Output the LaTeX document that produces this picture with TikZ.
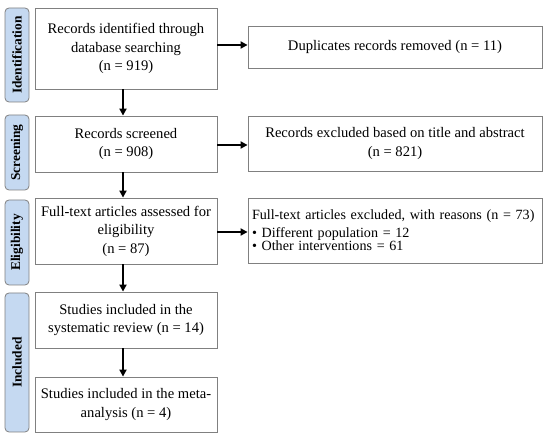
\documentclass[tikz,border=0pt]{standalone}
\usepackage{fontspec}
\setmainfont{Liberation Serif}
\usetikzlibrary{arrows.meta}
\definecolor{sidefill}{HTML}{C5D9F1}
\begin{document}
\begin{tikzpicture}[x=1pt,y=-1pt,
  box/.style={draw=black!50,line width=0.8pt,fill=white,inner sep=0pt,align=center,font=\fontsize{14.6}{18.5}\selectfont},
  side/.style={draw=black!50,line width=0.8pt,fill=sidefill,rounded corners=4pt,inner sep=0pt},
  sidetext/.style={rotate=90,font=\fontsize{13.4}{15}\selectfont\bfseries},
  arr/.style={-{Triangle[length=7pt,width=7pt]},line width=2pt,black}]
\useasboundingbox (0,0) rectangle (550,443);
% side labels
\node[side,minimum width=24pt,minimum height=94pt] (sid) at (17,55) {};
\node[sidetext] (tid) at (sid.center) {Identification};
\node[side,minimum width=24pt,minimum height=75pt] (sscr) at (17,152.5) {};
\node[sidetext] (tscr) at (sscr.center) {Screening};
\node[side,minimum width=24pt,minimum height=85pt] (sel) at (17,242.5) {};
\node[sidetext] (tel) at (sel.center) {Eligibility};
\node[side,minimum width=24pt,minimum height=139pt] (sinc) at (17,362.5) {};
\node[sidetext] (tinc) at (sinc.center) {Included};
% main boxes
\node[box,minimum width=182pt,minimum height=81pt] (b1) at (126,48.5) {Records identified through\\database searching\\(n = 919)};
\node[box,minimum width=182pt,minimum height=56pt] (b2) at (126,144) {Records screened\\(n = 908)};
\node[box,minimum width=182pt,minimum height=66pt] (b3) at (126,231) {Full-text articles assessed for\\eligibility\\(n = 87)};
\node[box,minimum width=182pt,minimum height=56pt] (b4) at (126,320) {Studies included in the\\systematic review (n = 14)};
\node[box,minimum width=182pt,minimum height=55pt] (b5) at (126,404.5) {Studies included in the meta-\\analysis (n = 4)};
% right boxes
\node[box,minimum width=294pt,minimum height=42pt] (r1) at (395,47) {Duplicates records removed (n = 11)};
\node[box,minimum width=294pt,minimum height=55pt] (r2) at (395,143.5) {Records excluded based on title and abstract\\(n = 821)};
\node[box,minimum width=294pt,minimum height=65pt,align=left,text width=286pt,inner xsep=4pt,font=\fontsize{14.1}{13}\selectfont] (r3) at (395,230.5) {\mbox{Full-text articles excluded, with reasons (n = 73)}\\[5pt]\textbullet\ Different population = 12\\\textbullet\ Other interventions = 61\\[3pt]};
% arrows
\draw[arr] (b1.east |- 0,45) -- (r1.west |- 0,45);
\draw[arr] (b2.east |- 0,145) -- (r2.west |- 0,145);
\draw[arr] (b3.east |- 0,232) -- (r3.west |- 0,232);
\draw[arr] (b1.south -| 123,0) -- (b2.north -| 123,0);
\draw[arr] (b2.south -| 123,0) -- (b3.north -| 123,0);
\draw[arr] (b3.south -| 123,0) -- (b4.north -| 123,0);
\draw[arr] (b4.south -| 123,0) -- (b5.north -| 123,0);
\end{tikzpicture}
\end{document}
